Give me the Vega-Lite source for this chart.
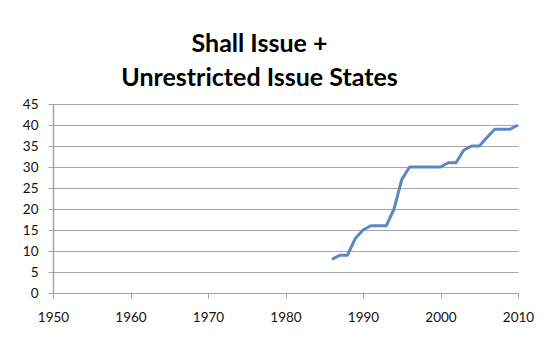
{
  "$schema": "https://vega.github.io/schema/vega-lite/v6.json",
  "autosize": "none",
  "width": 465,
  "height": 189,
  "padding": {"left": 53, "top": 104, "right": 42, "bottom": 60},
  "background": "white",
  "title": {
    "text": ["Shall Issue +", "Unrestricted Issue States"],
    "font": "Lato",
    "fontSize": 25,
    "fontWeight": "bold",
    "color": "black",
    "lineHeight": 34,
    "anchor": "middle",
    "dx": -26,
    "offset": 6
  },
  "config": {
    "view": {"stroke": null},
    "axis": {
      "labelFont": "Lato",
      "labelFontSize": 13.5,
      "labelColor": "#111",
      "gridColor": "#a6a6a6",
      "gridWidth": 1,
      "domainColor": "#a6a6a6",
      "tickColor": "#a6a6a6",
      "tickSize": 5
    }
  },
  "data": {
    "values": [
      {"year": 1986, "states": 8},
      {"year": 1987, "states": 9},
      {"year": 1988, "states": 9},
      {"year": 1989, "states": 13},
      {"year": 1990, "states": 15},
      {"year": 1991, "states": 16},
      {"year": 1992, "states": 16},
      {"year": 1993, "states": 16},
      {"year": 1994, "states": 20},
      {"year": 1995, "states": 27},
      {"year": 1996, "states": 30},
      {"year": 1997, "states": 30},
      {"year": 1998, "states": 30},
      {"year": 1999, "states": 30},
      {"year": 2000, "states": 30},
      {"year": 2001, "states": 31},
      {"year": 2002, "states": 31},
      {"year": 2003, "states": 34},
      {"year": 2004, "states": 35},
      {"year": 2005, "states": 35},
      {"year": 2006, "states": 37},
      {"year": 2007, "states": 39},
      {"year": 2008, "states": 39},
      {"year": 2009, "states": 39},
      {"year": 2010, "states": 40}
    ]
  },
  "mark": {"type": "line", "color": "#5b87c6", "strokeWidth": 3, "strokeJoin": "round"},
  "encoding": {
    "x": {
      "field": "year",
      "type": "quantitative",
      "scale": {"domain": [1950, 2010], "nice": false, "zero": false},
      "axis": {"title": null, "values": [1950, 1960, 1970, 1980, 1990, 2000, 2010], "format": "d", "grid": false, "domain": false, "labelPadding": 12, "labelFlush": false}
    },
    "y": {
      "field": "states",
      "type": "quantitative",
      "scale": {"domain": [0, 45], "nice": false},
      "axis": {"title": null, "values": [0, 5, 10, 15, 20, 25, 30, 35, 40, 45], "grid": true, "labelPadding": 10, "domainWidth": 1.5}
    }
  }
}
